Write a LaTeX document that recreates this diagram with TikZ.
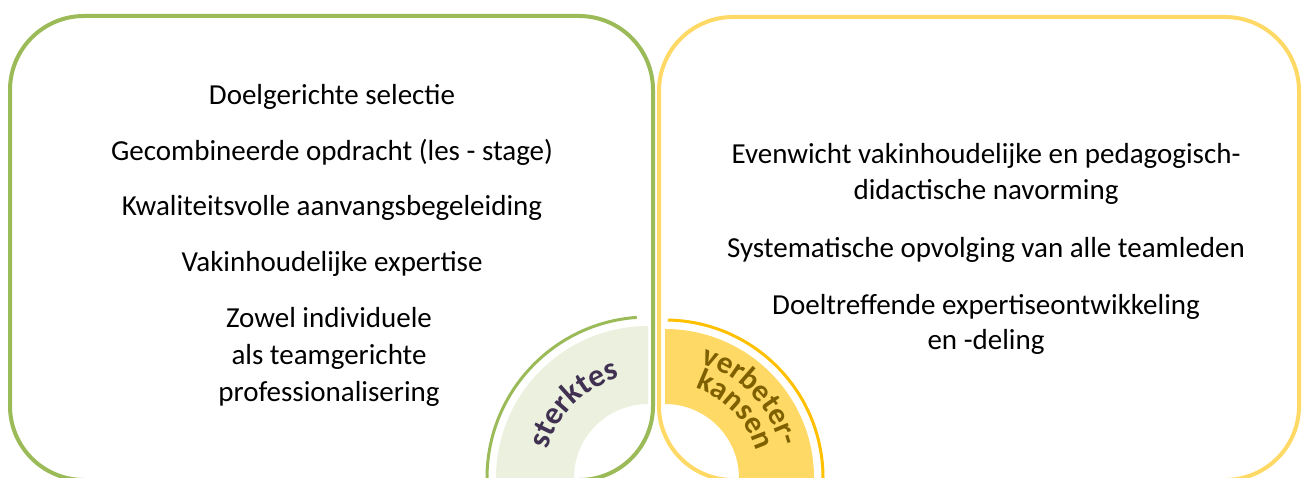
\documentclass[tikz,border=0pt]{standalone}
\usepackage{fontspec}
\setmainfont{Carlito}
\usetikzlibrary{decorations.text}
\definecolor{grline}{HTML}{9BBB59}
\definecolor{grfill}{HTML}{EBF1DE}
\definecolor{yeline}{HTML}{FFD966}
\definecolor{yefill}{HTML}{FFD966}
\definecolor{goldarc}{HTML}{FFC000}
\definecolor{sterkcol}{HTML}{403152}
\definecolor{verbcol}{HTML}{7F6000}
\tikzset{
  box/.style={line width=4pt, rounded corners=74pt},
  item/.style={anchor=base, inner sep=0pt, font=\fontsize{29}{37}\selectfont},
  ringarc/.style={line width=3pt},
}
\begin{document}
\begin{tikzpicture}[x=1pt,y=1pt]
\useasboundingbox (0,0) rectangle (1303,477);
% boxes
\draw[box, grline] (10,461) rectangle (653,-3);
\draw[box, yeline] (659,460) rectangle (1299,-3);
% ring centers
\coordinate (L) at (648,-1);
\coordinate (R) at (665,-1);
% left quarter ring
\fill[grfill] (L) ++(90:152) arc[start angle=90,end angle=180,radius=152]
  -- ++(78,0) arc[start angle=180,end angle=90,radius=74] -- cycle;
\draw[ringarc, grline] (L) ++(94:161) arc[start angle=94,end angle=180,radius=161];
% right quarter ring
\fill[yefill] (R) ++(0:149) arc[start angle=0,end angle=90,radius=149]
  -- ++(0,-75) arc[start angle=90,end angle=0,radius=74] -- cycle;
\draw[ringarc, goldarc] (R) ++(0:158) arc[start angle=0,end angle=89,radius=158];
% ring labels
\path[decorate, decoration={text along path, text align=center, text color=sterkcol,
  text={|\fontsize{32}{38}\selectfont\bfseries|sterktes}}]
  (L) ++(172:104) arc[start angle=172,end angle=98,radius=104];
\path[decorate, decoration={text along path, text align=center, text color=verbcol,
  text={|\fontsize{31}{37}\selectfont\bfseries|verbeter-}}]
  (R) ++(82:120) arc[start angle=82,end angle=6,radius=120];
\path[decorate, decoration={text along path, text align=center, text color=verbcol,
  text={|\fontsize{31}{37}\selectfont\bfseries|kansen}}]
  (R) ++(82:95) arc[start angle=82,end angle=6,radius=95];
% left texts
\node[item] (s1) at (332,372) {Doelgerichte selectie};
\node[item] (s2) at (332,316) {Gecombineerde opdracht (les - stage)};
\node[item] (s3) at (332,261) {Kwaliteitsvolle aanvangsbegeleiding};
\node[item] (s4) at (332,205) {Vakinhoudelijke expertise};
\node[item] (s5a) at (329,150) {Zowel individuele};
\node[item] (s5b) at (329,113) {als teamgerichte};
\node[item] (s5c) at (329,76) {professionalisering};
% right texts
\node[item] (v1a) at (986,313) {Evenwicht vakinhoudelijke en pedagogisch-};
\node[item] (v1b) at (986,277) {didactische navorming};
\node[item] (v2) at (986,219) {Systematische opvolging van alle teamleden};
\node[item] (v3a) at (986,163) {Doeltreffende expertiseontwikkeling};
\node[item] (v3b) at (986,128) {en -deling};
\end{tikzpicture}
\end{document}
